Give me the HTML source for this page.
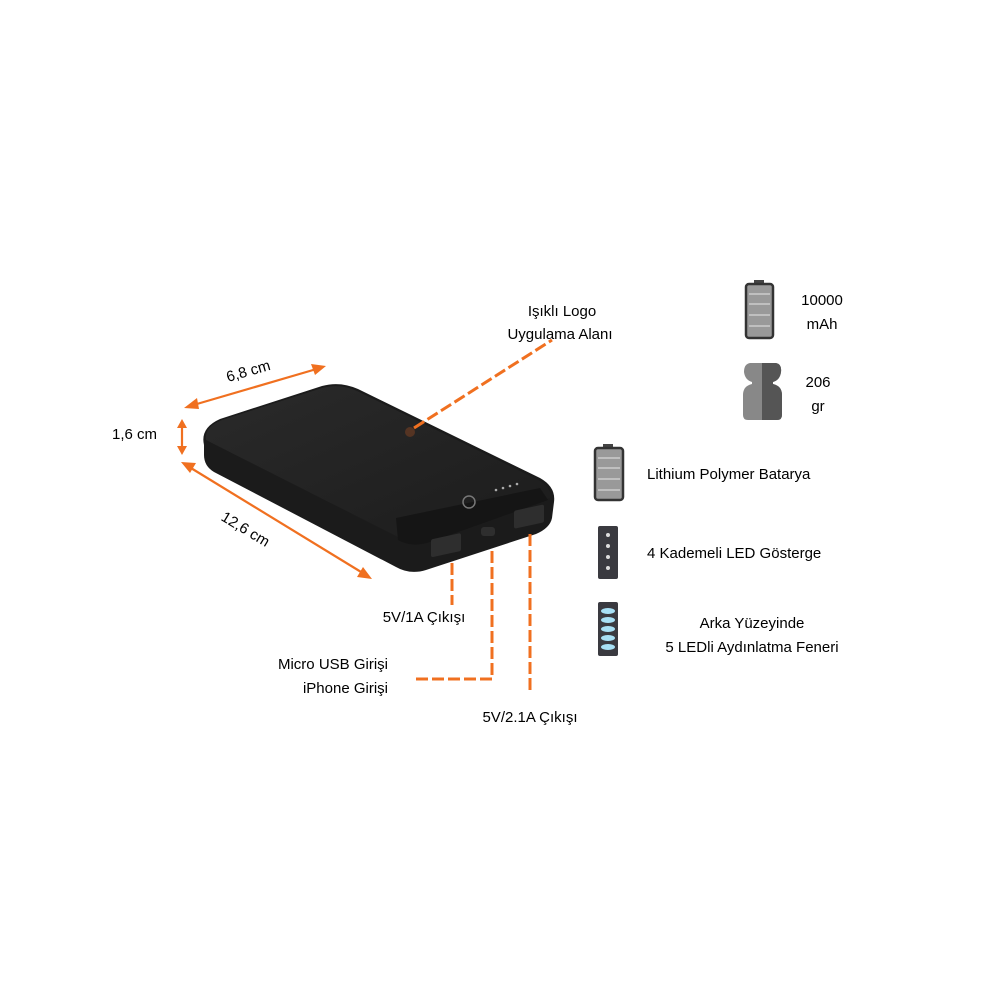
<!DOCTYPE html>
<html><head><meta charset="utf-8"><style>
body{margin:0;background:#fff}
svg text{font-family:"Liberation Sans",sans-serif;fill:#000;font-size:15px}
</style></head><body>
<svg width="1000" height="1000" viewBox="0 0 1000 1000">
<defs>
<linearGradient id="tg" x1="0" y1="0" x2="1" y2="1"><stop offset="0" stop-color="#2a2a2a"/><stop offset="1" stop-color="#1c1c1c"/></linearGradient>
</defs>
<path d="M204,445 Q200,428 220,419 L322,386 Q340,381 358,389 L540,478 Q556,487 554,502 L552,518 Q550,528 536,534 L426,570 Q410,575 396,567 L214,472 Q204,466 204,455 Z" fill="#1b1b1b"/>
<path d="M206,440 Q204,427 222,420 L322,388 Q340,383 357,391 L538,480 Q552,488 550,498 L424,540 Q412,544 400,538 Z" fill="url(#tg)"/>
<path d="M396,518 L540,488 L548,500 L430,542 Q412,548 398,540 Z" fill="#151515"/>
<rect x="431" y="536" width="30" height="18" rx="2" fill="#2e2e2e" transform="skewY(-12) translate(0,95)"/>
<rect x="514" y="508" width="30" height="18" rx="2" fill="#2e2e2e" transform="skewY(-12) translate(0,112)"/>
<rect x="481" y="527" width="14" height="9" rx="3" fill="#2e2e2e"/>
<circle cx="469" cy="502" r="6" fill="none" stroke="#777" stroke-width="1.5"/>
<g fill="#aaa"><circle cx="496" cy="490" r="1.3"/><circle cx="503" cy="488" r="1.3"/><circle cx="510" cy="486" r="1.3"/><circle cx="517" cy="484" r="1.3"/></g>
<circle cx="410" cy="432" r="5" fill="#c65a20" opacity="0.3"/>
<g stroke="#f07020" stroke-width="2.2" fill="none">
<line x1="190" y1="406" x2="320" y2="368"/>
<line x1="182" y1="424" x2="182" y2="450"/>
<line x1="186" y1="465" x2="366" y2="575"/>
</g>
<g fill="#f07020">
<polygon points="184,408 197,398 199,409"/>
<polygon points="326,366 311,364 315,375"/>
<polygon points="182,419 177,428 187,428"/>
<polygon points="182,455 177,446 187,446"/>
<polygon points="181,462 196,463 190,473"/>
<polygon points="372,579 357,577 363,567"/>
</g>
<g stroke="#f07020" stroke-width="3" fill="none" stroke-dasharray="12,4">
<line x1="414" y1="428" x2="552" y2="340"/>
<line x1="452" y1="563" x2="452" y2="605"/>
<polyline points="492,551 492,679 412,679"/>
<line x1="530" y1="534" x2="530" y2="692"/>
</g>
<text x="562" y="316" text-anchor="middle">Işıklı Logo</text>
<text x="560" y="339" text-anchor="middle">Uygulama Alanı</text>
<text x="248" y="376" transform="rotate(-16 248 370)" text-anchor="middle">6,8 cm</text>
<text x="112" y="439">1,6 cm</text>
<text x="245" y="534" transform="rotate(31 245 530)" text-anchor="middle">12,6 cm</text>
<text x="424" y="622" text-anchor="middle">5V/1A Çıkışı</text>
<text x="388" y="669" text-anchor="end">Micro USB Girişi</text>
<text x="388" y="693" text-anchor="end">iPhone Girişi</text>
<text x="530" y="722" text-anchor="middle">5V/2.1A Çıkışı</text>
<g>
<rect x="754" y="280" width="10" height="5" fill="#444"/>
<rect x="746" y="284" width="27" height="54" rx="3" fill="#999" stroke="#333" stroke-width="2.5"/>
<g stroke="#ccc" stroke-width="1.5"><line x1="749" y1="294" x2="770" y2="294"/><line x1="749" y1="304" x2="770" y2="304"/><line x1="749" y1="315" x2="770" y2="315"/><line x1="749" y1="326" x2="770" y2="326"/></g>
</g>
<text x="822" y="305" text-anchor="middle">10000</text>
<text x="822" y="329" text-anchor="middle">mAh</text>
<path d="M750,363 L776,363 Q782,364 781,372 Q780,380 773,382 L773,384 Q782,386 782,395 L782,415 Q782,420 777,420 L748,420 Q743,420 743,415 L743,395 Q743,386 752,384 L752,382 Q745,380 744,372 Q744,364 750,363 Z" fill="#888"/>
<path d="M762,363 L776,363 Q782,364 781,372 Q780,380 773,382 L773,384 Q782,386 782,395 L782,415 Q782,420 777,420 L762,420 Z" fill="#555"/>
<text x="818" y="387" text-anchor="middle">206</text>
<text x="818" y="411" text-anchor="middle">gr</text>
<g>
<rect x="603" y="444" width="10" height="5" fill="#444"/>
<rect x="595" y="448" width="28" height="52" rx="3" fill="#999" stroke="#333" stroke-width="2.5"/>
<g stroke="#ccc" stroke-width="1.5"><line x1="598" y1="458" x2="620" y2="458"/><line x1="598" y1="468" x2="620" y2="468"/><line x1="598" y1="479" x2="620" y2="479"/><line x1="598" y1="490" x2="620" y2="490"/></g>
</g>
<text x="647" y="479">Lithium Polymer Batarya</text>
<rect x="598" y="526" width="20" height="53" rx="2" fill="#3a3a40"/>
<g fill="#ddd"><circle cx="608" cy="535" r="2"/><circle cx="608" cy="546" r="2"/><circle cx="608" cy="557" r="2"/><circle cx="608" cy="568" r="2"/></g>
<text x="647" y="558">4 Kademeli LED Gösterge</text>
<rect x="598" y="602" width="20" height="54" rx="2" fill="#3a3a40"/>
<g fill="#a8e0f5"><ellipse cx="608" cy="611" rx="7" ry="3"/><ellipse cx="608" cy="620" rx="7" ry="3"/><ellipse cx="608" cy="629" rx="7" ry="3"/><ellipse cx="608" cy="638" rx="7" ry="3"/><ellipse cx="608" cy="647" rx="7" ry="3"/></g>
<text x="752" y="628" text-anchor="middle">Arka Yüzeyinde</text>
<text x="752" y="652" text-anchor="middle">5 LEDli Aydınlatma Feneri</text>
</svg>
</body></html>
